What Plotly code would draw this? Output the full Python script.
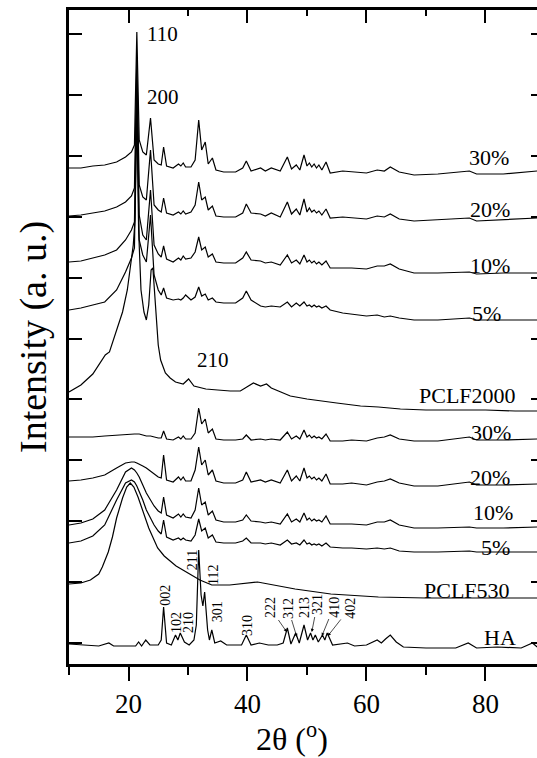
import plotly.graph_objects as go

# ---------------- data (2theta in degrees, intensity in arbitrary stacked units) -------------
x_comp = [10, 12, 14, 16, 18, 19.5, 20.5, 21.0, 21.4, 21.8, 22.4, 23.0, 23.7, 24.3, 25.0,
          25.5, 25.9, 26.4, 27.5, 28.4, 28.8, 29.2, 29.6, 30.5, 31.2, 31.8, 32.3, 32.9, 33.4, 34.1,
          34.7, 36, 38, 39.2, 39.8, 40.6, 42.2, 43, 44, 45.5, 46.7, 47.4, 48.2, 48.8, 49.5,
          50.0, 50.4, 50.8, 51.2, 51.6, 52.0, 52.5, 53.2, 53.9, 56, 57.5, 60, 61.8, 63, 64,
          65.5, 68, 72, 77.3, 78.5, 83, 88.7]

pclf2000_30 = [496, 496, 498, 499, 502, 507, 512, 519, 632, 524, 512, 509, 546, 504, 500,
               499, 517, 498, 496, 500, 498, 501, 497, 497, 504, 544, 514, 522, 500, 506,
               494, 492, 492, 496, 503, 493, 496, 493, 496, 493, 507, 495, 499, 494, 509,
               498, 501, 497, 500, 496, 499, 494, 502, 491, 493, 492, 491, 494, 493, 497,
               492, 489, 490, 493, 490, 490, 493]
pclf2000_20 = [448, 449, 451, 453, 457, 462, 468, 476, 604, 479, 467, 464, 514, 459, 454,
               452, 466, 451, 449, 452, 450, 453, 450, 452, 459, 482, 464, 467, 454, 458,
               448, 447, 447, 451, 460, 451, 450, 448, 451, 447, 462, 450, 455, 449, 465,
               452, 456, 452, 454, 451, 453, 449, 455, 446, 447, 446, 445, 448, 447, 450,
               445, 443, 444, 446, 443, 444, 446]
pclf2000_10 = [402, 403, 406, 409, 414, 424, 434, 442, 584, 449, 429, 424, 474, 419, 410,
               407, 418, 405, 402, 406, 404, 408, 405, 406, 412, 427, 414, 417, 407, 410,
               402, 401, 401, 406, 412, 404, 403, 401, 402, 399, 409, 401, 404, 400, 409,
               402, 404, 401, 403, 400, 402, 399, 403, 396, 396, 396, 395, 398, 398, 400,
               395, 391, 391, 392, 390, 391, 391]
pclf2000_5 = [354, 356, 359, 362, 374, 392, 406, 416, 564, 424, 409, 402, 449, 389, 374,
              369, 376, 366, 364, 365, 364, 366, 369, 364, 367, 377, 368, 370, 364, 366,
              362, 361, 361, 366, 373, 364, 358, 357, 358, 357, 362, 357, 361, 358, 362,
              358, 359, 357, 359, 357, 358, 356, 358, 354, 351, 350, 348, 349, 347, 348,
              346, 344, 344, 346, 344, 344, 344]
pclf530_30 = [227, 227, 227, 228, 229, 230, 230, 230, 230, 230, 229, 228, 228, 227, 226,
              226, 233, 225, 224, 227, 225, 228, 225, 225, 231, 256, 240, 245, 231, 235,
              225, 224, 224, 225, 229, 224, 225, 224, 225, 224, 232, 225, 228, 225, 234,
              227, 229, 226, 228, 226, 227, 225, 230, 223, 223, 224, 223, 226, 227, 229,
              225, 223, 223, 227, 224, 224, 225]
pclf530_20 = [183, 184, 186, 189, 196, 201, 202, 202, 201, 200, 198, 196, 193, 190, 187,
              186, 209, 184, 182, 187, 184, 187, 183, 183, 194, 217, 199, 204, 189, 194,
              183, 181, 181, 184, 192, 182, 184, 182, 184, 181, 194, 183, 188, 183, 196,
              186, 188, 185, 187, 184, 186, 183, 190, 180, 180, 181, 179, 182, 183, 185,
              181, 178, 178, 182, 179, 179, 180]
pclf530_10 = [139, 141, 145, 154, 174, 192, 196, 194, 191, 187, 179, 171, 164, 158, 153,
              151, 167, 149, 146, 150, 147, 150, 147, 146, 154, 176, 159, 162, 149, 153,
              144, 142, 142, 144, 149, 143, 142, 141, 142, 140, 150, 142, 145, 142, 151,
              144, 146, 143, 145, 143, 144, 142, 148, 140, 140, 140, 139, 142, 142, 144,
              139, 136, 136, 137, 136, 136, 137]
pclf530_5 = [121, 123, 128, 139, 164, 181, 184, 182, 178, 173, 164, 154, 146, 139, 133,
             130, 144, 127, 124, 126, 124, 126, 124, 123, 129, 145, 133, 136, 126, 129,
             122, 121, 121, 123, 126, 121, 121, 120, 121, 119, 124, 120, 121, 119, 124,
             120, 121, 119, 120, 119, 120, 118, 121, 117, 116, 116, 115, 116, 115, 116,
             113, 112, 112, 113, 112, 112, 112]

x_pclf2000 = [10, 12, 14, 15.3, 16.1, 16.8, 17.8, 19, 19.8, 20.3, 20.8, 21.1, 21.4, 21.7, 22.1,
              22.6, 23.0, 23.4, 23.8, 24.1, 24.5, 25.0, 25.4, 26.2, 27, 27.9, 29.2, 30.1, 31, 33,
              35, 37.1, 38.8, 40.2, 41, 42.2, 43.2, 44, 45.5, 47.2, 50, 52.3, 55, 59, 62,
              65.7, 70, 74, 80, 85, 88.7]
pclf2000 = [272, 279, 290, 302, 309, 312, 331, 352, 374, 397, 419, 444, 554, 434, 374,
            352, 344, 359, 394, 396, 364, 319, 304, 291, 286, 282, 280, 285, 278, 275,
            274, 273, 273, 278, 281, 278, 280, 276, 272, 268, 265, 263, 261, 258, 257,
            255, 254, 254, 254, 253, 253]

x_pclf530 = [10, 12, 13.6, 15, 15.6, 16.6, 17.3, 18, 19, 19.7, 20.3, 20.9, 21.6, 22.5, 23.4,
             24.9, 26, 28, 30, 32, 34, 37, 41.7, 45, 48, 54, 62, 70, 80, 88.7]
pclf530 = [80, 81, 84, 90, 97, 112, 127, 146, 166, 177, 181, 177, 167, 152, 136,
           116, 108, 98, 91, 84, 79, 79, 82, 78, 75, 70, 67, 66, 66, 66]

x_ha = [10, 12, 15, 16.7, 17.5, 20, 21.2, 21.7, 22.2, 22.9, 23.6, 25.0, 25.5, 25.9, 26.4,
        27.2, 27.9, 28.3, 28.7, 29.4, 30.2, 31.0, 31.4, 31.8, 32.2, 32.5, 32.8, 33.3, 33.6, 34.0,
        34.5, 35.5, 36.5, 39.0, 39.8, 40.6, 42.0, 43.5, 45.0, 46.0, 46.7, 47.3, 48.1, 48.7, 49.5,
        50.1, 50.6, 51.0, 51.4, 51.9, 52.6, 53.0, 53.4, 54.3, 56.8, 58, 60, 61.8, 62.5, 63.2,
        64, 65, 66.2, 70, 75, 77.1, 78.5, 82, 86, 87.9, 88.7]
ha = [20, 19, 18, 21, 18, 18, 18, 22, 18, 24, 19, 19, 24, 57, 21,
      19, 29, 24, 31, 22, 19, 24, 39, 114, 69, 58, 72, 34, 24, 34,
      21, 23, 19, 19, 29, 19, 21, 19, 19, 21, 36, 20, 31, 21, 39,
      24, 31, 24, 29, 22, 29, 24, 31, 19, 21, 18, 19, 24, 21, 25,
      29, 22, 17, 16, 16, 21, 16, 17, 16, 21, 17]

series = [
    (x_comp, pclf2000_30), (x_comp, pclf2000_20), (x_comp, pclf2000_10), (x_comp, pclf2000_5),
    (x_pclf2000, pclf2000),
    (x_comp, pclf530_30), (x_comp, pclf530_20), (x_comp, pclf530_10), (x_comp, pclf530_5),
    (x_pclf530, pclf530), (x_ha, ha),
]

curve_labels = ["30%", "20%", "10%", "5%", "PCLF2000", "30%", "20%", "10%", "5%", "PCLF530", "HA"]
label_x = [84.3, 84.45, 84.45, 82.9, 85.5, 84.6, 84.45, 84.95, 84.45, 84.45, 85.5]
label_y = [507, 455, 399, 351, 269, 232, 187, 152, 117, 74, 27]

peak_labels = ["110", "200", "210"]
peak_x = [22.8, 22.8, 31.2]
peak_y = [630, 567, 304]

# HA reflections: label centre, and (for some) the peak the arrow points to
ha_hkl = ["002", "102", "210", "211", "112", "301", "310", "222", "312", "213", "321", "410", "402"]
ha_hkl_x = [26.1, 28.0, 30.0, 30.7, 34.2, 34.9, 39.9, 43.8, 46.8, 49.5, 51.7, 54.5, 57.2]
ha_hkl_y = [69, 41, 42, 104, 89, 52, 39, 56, 56, 56, 59, 57, 56]
ha_arrow_x = [None, None, None, None, None, None, None, 46.6, 48.3, None, 50.8, 52.5, 53.5]
ha_arrow_y = [None, None, None, None, None, None, None, 32, 27, None, 32, 28, 28]

# ---------------- figure -------------
SERIF = "Liberation Serif, Times New Roman, serif"
fig = go.Figure()
for xs, ys in series:
    fig.add_trace(go.Scatter(x=xs, y=ys, mode="lines",
                             line=dict(color="black", width=1.2),
                             showlegend=False, hoverinfo="skip"))
fig.add_trace(go.Scatter(x=[None], y=[None], xaxis="x2", yaxis="y2",
                         showlegend=False, hoverinfo="skip"))

XR = [10, 88.66]
YR = [0, 654]
L, T, PW, PH = 69, 10, 468, 654
fig.update_layout(
    width=537, height=758,
    margin=dict(l=L, r=0, t=T, b=94),
    plot_bgcolor="white", paper_bgcolor="white",
    font=dict(family=SERIF, color="black"),
    xaxis=dict(range=XR, showline=True, linewidth=2.5, linecolor="black", mirror=False,
               ticks="outside", ticklen=14, tickwidth=2, tickcolor="black",
               tick0=0, dtick=20, showgrid=False, zeroline=False,
               tickfont=dict(size=27, family=SERIF, color="black"),
               minor=dict(ticks="outside", ticklen=8, tickwidth=2, tickcolor="black",
                          tick0=0, dtick=10, showgrid=False)),
    xaxis2=dict(range=XR, overlaying="x", side="top", anchor="y",
                showline=True, linewidth=2.5, linecolor="black",
                ticks="inside", ticklen=13, tickwidth=2, tickcolor="black",
                tick0=0, dtick=20, showticklabels=False, showgrid=False, zeroline=False,
                minor=dict(ticks="inside", ticklen=6, tickwidth=2, tickcolor="black",
                           tick0=0, dtick=10, showgrid=False)),
    yaxis=dict(range=YR, showline=True, linewidth=2.5, linecolor="black",
               ticks="inside", ticklen=13, tickwidth=2, tickcolor="black",
               tick0=21, dtick=60.9, showticklabels=False, showgrid=False, zeroline=False),
    yaxis2=dict(range=YR, overlaying="y", side="right", anchor="x",
                showline=False, ticks="inside", ticklen=6, tickwidth=2, tickcolor="black",
                tick0=21, dtick=60.9, showticklabels=False, showgrid=False, zeroline=False),
)

px_per_x = PW / (XR[1] - XR[0])
px_per_y = PH / (YR[1] - YR[0])

ann = []
for t, x, y in zip(curve_labels, label_x, label_y):
    ann.append(dict(x=x, y=y, text=t, showarrow=False, xanchor="right", yanchor="middle",
                    font=dict(size=22, family=SERIF, color="black")))
for t, x, y in zip(peak_labels, peak_x, peak_y):
    ann.append(dict(x=x, y=y, text=t, showarrow=False, xanchor="left", yanchor="middle",
                    font=dict(size=21, family=SERIF, color="black")))
for t, x, y, hx, hy in zip(ha_hkl, ha_hkl_x, ha_hkl_y, ha_arrow_x, ha_arrow_y):
    f = dict(size=14, family=SERIF, color="black")
    if hx is None:
        ann.append(dict(x=x, y=y, text=t, showarrow=False, textangle=-90,
                        xanchor="center", yanchor="middle", font=f))
    else:
        ann.append(dict(x=hx, y=hy, text=t, showarrow=True, textangle=-90,
                        ax=(x - hx) * px_per_x, ay=-(y - hy) * px_per_y,
                        arrowhead=2, arrowsize=0.9, arrowwidth=0.7, arrowcolor="black",
                        standoff=0, font=f))
# axis titles
ann.append(dict(xref="paper", yref="paper", x=0.476, y=-0.1116, text="2θ (<sup>o</sup>)",
                showarrow=False, xanchor="center", yanchor="middle",
                font=dict(size=32, family=SERIF, color="black")))
ann.append(dict(xref="paper", yref="paper", x=-0.0769, y=0.5, text="Intensity (a. u.)",
                showarrow=False, textangle=-90, xanchor="center", yanchor="middle",
                font=dict(size=38, family=SERIF, color="black")))
fig.update_layout(annotations=ann)

fig.write_html("out.html")
